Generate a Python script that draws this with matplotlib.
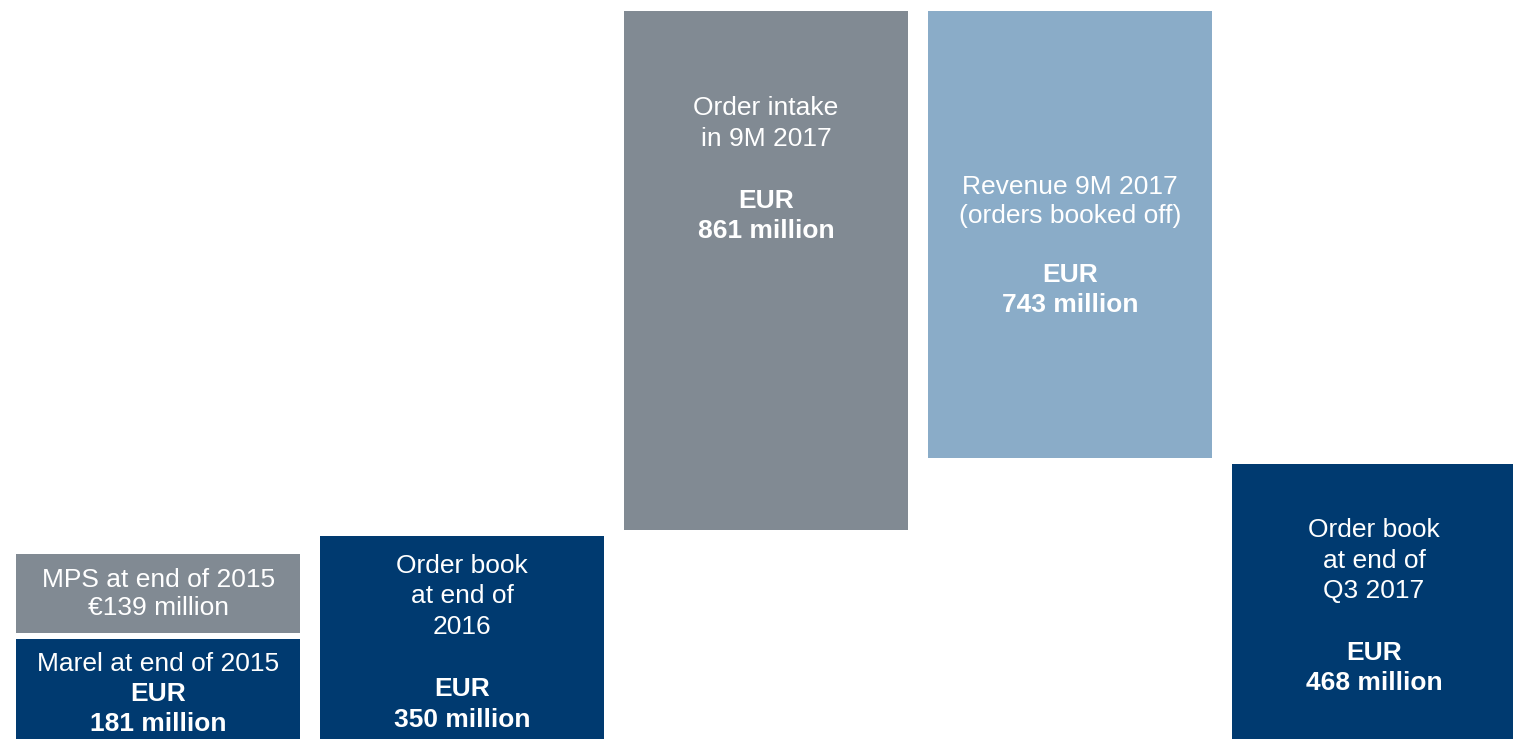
import matplotlib
matplotlib.use('Agg')
import matplotlib.pyplot as plt

# values in EUR million
marel_2015 = 181
mps_2015 = 139
order_book_2016 = 350
order_intake = 861
revenue = 743
order_book_q3 = 468

navy = '#003a70'
grey = '#818a93'
light_blue = '#8aacc8'

plt.rcParams['font.family'] = ['Liberation Sans', 'DejaVu Sans']

fig = plt.figure(figsize=(15.13, 7.39), dpi=100)
ax = fig.add_axes([0, 0, 1, 1])
ax.set_xlim(-0.52, 4.457)
ax.set_ylim(17, 1229)
ax.axis('off')

width = 0.934
gap = 10  # small white gap under floating blocks

top_after_intake = order_book_2016 + order_intake

# (x, bottom, height, colour, label lines, label position as share of block, line spacing px)
blocks = [
    (0, 0, marel_2015, navy,
     [('Marel at end of 2015', False), ('EUR', True), ('181 million', True)], 0.5, 30),
    (0, marel_2015 + gap, mps_2015 - gap, grey,
     [('MPS at end of 2015', False), ('€139 million', False)], 0.5, 28),
    (1, 0, order_book_2016, navy,
     [('Order book', False), ('at end of', False), ('2016', False), ('', False),
      ('EUR', True), ('350 million', True)], 0.5, 30.8),
    (2, order_book_2016 + gap, order_intake - gap, grey,
     [('Order intake', False), ('in 9M 2017', False), ('', False),
      ('EUR', True), ('861 million', True)], 0.694, 30.8),
    (3, top_after_intake - revenue + gap, revenue - gap, light_blue,
     [('Revenue 9M 2017', False), ('(orders booked off)', False), ('', False),
      ('EUR', True), ('743 million', True)], 0.475, 29.5),
    (4, 0, order_book_q3, navy,
     [('Order book', False), ('at end of', False), ('Q3 2017', False), ('', False),
      ('EUR', True), ('468 million', True)], 0.5, 30.6),
]

for x, bottom, height, colour, lines, pos, spacing in blocks:
    ax.bar(x, height, bottom=bottom, width=width, color=colour, linewidth=0)
    yc = bottom + height * pos
    n = len(lines)
    for i, (txt, bold) in enumerate(lines):
        if not txt:
            continue
        off = ((n - 1) / 2 - i) * spacing
        ax.annotate(txt, (x, yc), xytext=(0, off), textcoords='offset pixels',
                    ha='center', va='center', color='white', fontsize=19,
                    family='Liberation Sans',
                    fontweight='bold' if bold else 'normal')

fig.savefig('out.png', dpi=100)
